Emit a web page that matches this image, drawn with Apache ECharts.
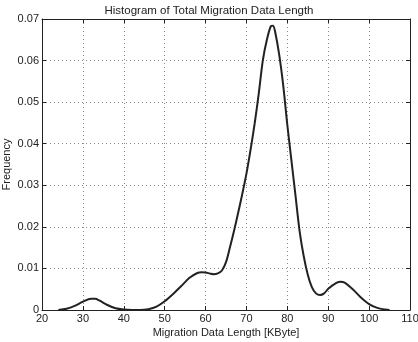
<!DOCTYPE html>
<html>
<head>
<meta charset="utf-8">
<script src="https://cdn.jsdelivr.net/npm/echarts@6/dist/echarts.min.js"></script>
<style>
  html, body { margin: 0; padding: 0; background: #fff; }
  #chart { width: 418px; height: 342px; }
</style>
</head>
<body>
<div id="chart"></div>
<script>
// density estimate
const lengthKB = [24, 26, 28, 30, 32, 33, 34, 36, 38, 40, 42, 44, 46, 48, 50, 52, 54, 56, 58, 59, 60, 61, 62, 63, 64, 65, 66, 67, 68, 69, 70, 71, 72, 73, 74, 75, 76, 76.5, 77, 78, 79, 80, 81, 82, 83, 84, 85, 86, 87, 88, 89, 90, 92, 93, 94, 96, 98, 100, 102, 104, 105]
const frequency = [0, 0.0003, 0.001, 0.002, 0.0027, 0.0027, 0.0023, 0.0012, 0.0004, 0.0001, 0, 0, 0.0002, 0.0008, 0.0021, 0.0038, 0.0057, 0.0077, 0.0089, 0.0091, 0.009, 0.0088, 0.0086, 0.0088, 0.0095, 0.0115, 0.0152, 0.0192, 0.0235, 0.028, 0.0328, 0.0385, 0.0448, 0.052, 0.06, 0.065, 0.0683, 0.0684, 0.067, 0.0615, 0.054, 0.0445, 0.036, 0.0275, 0.019, 0.013, 0.0085, 0.0055, 0.004, 0.0036, 0.004, 0.0051, 0.0065, 0.0068, 0.0066, 0.005, 0.003, 0.0014, 0.0005, 0.0001, 0]

const points = lengthKB.map((x, i) => [x, frequency[i]])

const font = 'Liberation Sans, Arial, Helvetica, sans-serif'
const ink = '#222'
const gridLine = { show: true, lineStyle: { color: '#888', type: [1, 3], width: 1 } }

const chart = echarts.init(document.getElementById('chart'), null, { renderer: 'canvas' })

chart.setOption({
  animation: false,
  title: {
    text: 'Histogram of Total Migration Data Length',
    left: 'center',
    top: 0,
    textStyle: { fontFamily: font, fontSize: 11.5, fontWeight: 'normal', color: ink },
  },
  grid: { left: 42, right: 8, top: 19, bottom: 32, outerBoundsMode: 'none' },
  xAxis: [
    {
      type: 'value',
      min: 20,
      max: 110,
      interval: 10,
      name: 'Migration Data Length [KByte]',
      nameLocation: 'middle',
      nameGap: 17,
      nameMoveOverlap: false,
      nameTextStyle: { fontFamily: font, fontSize: 11, color: ink },
      axisLine: { onZero: false, lineStyle: { color: ink, width: 1 } },
      axisTick: { inside: true, length: 4, lineStyle: { color: ink } },
      axisLabel: { fontFamily: font, fontSize: 11, color: ink, margin: 3 },
      splitLine: gridLine,
    },
    {
      type: 'value',
      position: 'top',
      min: 20,
      max: 110,
      interval: 10,
      axisLine: { onZero: false, lineStyle: { color: ink, width: 1 } },
      axisTick: { inside: true, length: 4, lineStyle: { color: ink } },
      axisLabel: { show: false },
      splitLine: { show: false },
    },
  ],
  yAxis: [
    {
      type: 'value',
      min: 0,
      max: 0.07,
      interval: 0.01,
      name: 'Frequency',
      nameLocation: 'middle',
      nameGap: 30,
      nameMoveOverlap: false,
      nameTextStyle: { fontFamily: font, fontSize: 11, color: ink },
      axisLine: { show: true, onZero: false, lineStyle: { color: ink, width: 1 } },
      axisTick: { show: true, inside: true, length: 4, lineStyle: { color: ink } },
      axisLabel: {
        fontFamily: font,
        fontSize: 11,
        color: ink,
        margin: 3,
        formatter: (v) => (v === 0 ? '0' : v.toFixed(2)),
      },
      splitLine: gridLine,
    },
    {
      type: 'value',
      position: 'right',
      min: 0,
      max: 0.07,
      interval: 0.01,
      axisLine: { show: true, onZero: false, lineStyle: { color: ink, width: 1 } },
      axisTick: { show: true, inside: true, length: 4, lineStyle: { color: ink } },
      axisLabel: { show: false },
      splitLine: { show: false },
    },
  ],
  series: [
    {
      type: 'line',
      data: points,
      smooth: 0.3,
      symbol: 'none',
      lineStyle: { color: ink, width: 2 },
    },
  ],
})
</script>
</body>
</html>
